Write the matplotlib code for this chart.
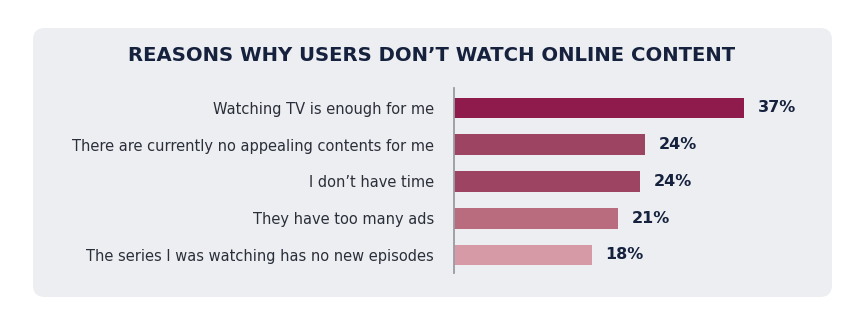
import matplotlib
matplotlib.use("Agg")
import matplotlib.pyplot as plt
from matplotlib.patches import FancyBboxPatch

categories = [
    "Watching TV is enough for me",
    "There are currently no appealing contents for me",
    "I don\u2019t have time",
    "They have too many ads",
    "The series I was watching has no new episodes",
]
values = [37.0, 24.4, 23.7, 20.9, 17.6]
value_labels = ["37%", "24%", "24%", "21%", "18%"]
bar_colors = ["#8e1b4b", "#9d4462", "#9d4462", "#b86c7e", "#d59aa6"]
title = "REASONS WHY USERS DON\u2019T WATCH ONLINE CONTENT"

W, H, DPI = 8.64, 3.15, 100
fig = plt.figure(figsize=(W, H), dpi=DPI, facecolor="white")

# panel background
panel = FancyBboxPatch((0.33, 0.18), 7.99, 2.69,
                       boxstyle="round,pad=0,rounding_size=0.12",
                       transform=fig.dpi_scale_trans,
                       facecolor="#eceef1", edgecolor="none", zorder=0)
fig.add_artist(panel)

navy = "#15213d"
fig.text(0.5, 0.824, title, ha="center", va="center",
         fontsize=14.1, fontweight="bold", color=navy, family="DejaVu Sans")

x0_px, x1_px = 453.5, 820.0
px_per_unit = 7.85
top_px, bot_px = 88.0, 273.0
ax = fig.add_axes([x0_px / 864, 1 - bot_px / 315, (x1_px - x0_px) / 864, (bot_px - top_px) / 315])
ax.set_facecolor("none")
ax.set_zorder(2)

ypos = list(range(len(categories)))
ax.barh(ypos, values, height=0.57, color=bar_colors, edgecolor="none", zorder=2)
ax.set_xlim(0, (x1_px - x0_px) / px_per_unit)
ax.set_ylim(4.49, -0.544)

ax.set_yticks(ypos)
ax.set_yticklabels(categories, fontsize=10.5, color="#2b2f3a")
ax.tick_params(axis="y", length=0, pad=14)
ax.set_xticks([])
for s in ["top", "right", "bottom"]:
    ax.spines[s].set_visible(False)
ax.spines["left"].set_color("#9a9ca2")
ax.spines["left"].set_linewidth(1.3)

for y, v, lab in zip(ypos, values, value_labels):
    ax.annotate(lab, xy=(v, y), xytext=(10, 0), textcoords="offset points",
                ha="left", va="center", fontsize=11.5, fontweight="bold", color=navy)

fig.savefig("out.png", dpi=DPI, facecolor="white")
